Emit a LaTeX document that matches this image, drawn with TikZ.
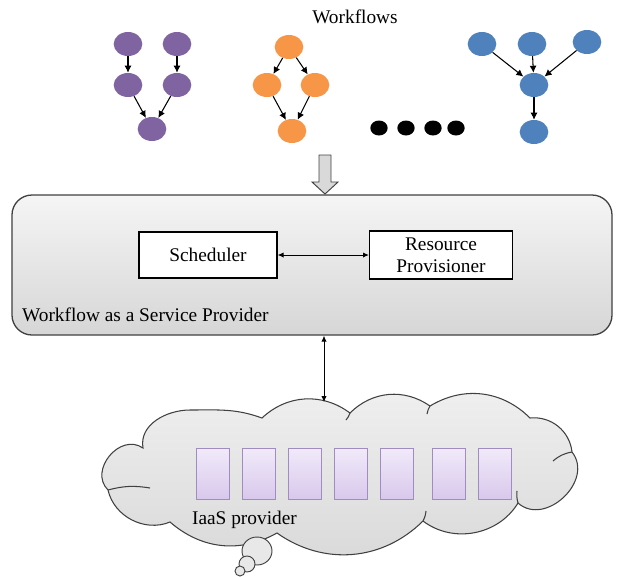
\documentclass[tikz,border=0pt]{standalone}
\usepackage{fontspec}
\setmainfont{Liberation Serif}
\usetikzlibrary{shapes.geometric,arrows.meta}

\definecolor{wfpurple}{HTML}{8064A2}
\definecolor{wforange}{HTML}{F79646}
\definecolor{wfblue}{HTML}{4F81BD}
\definecolor{vmedge}{HTML}{A08CC0}
\definecolor{vmtop}{HTML}{F1EAF9}
\definecolor{vmbottom}{HTML}{D8C8EC}
\definecolor{edgegray}{HTML}{404040}

\tikzset{
  task/.style={ellipse, minimum width=0.86cm, minimum height=0.72cm, inner sep=0pt},
  dot/.style={ellipse, fill=black, minimum width=0.52cm, minimum height=0.45cm, inner sep=0pt},
  dep/.style={-{Latex[length=6pt,width=6pt]}, line width=0.9pt},
  comp/.style={draw, line width=1.1pt, fill=white, align=center, inner sep=0pt},
  link/.style={{Latex[length=5pt,width=4.5pt]}-{Latex[length=5pt,width=4.5pt]}, line width=0.8pt},
  vm/.style={draw=vmedge, line width=0.9pt, top color=vmtop, bottom color=vmbottom,
    minimum width=0.99cm, minimum height=1.53cm, inner sep=0pt},
  bubble/.style={draw=edgegray, line width=0.8pt, fill=gray!18},
  puff/.style={draw=edgegray, line width=0.9pt},
}

\begin{document}
\begin{tikzpicture}[x=0.03cm, y=-0.03cm, font=\fontsize{16.5}{18.5}\selectfont]
  \useasboundingbox (0,0) rectangle (619,576);

  \node (title) at (355,17) {Workflows};

  % purple workflow
  \node[task, fill=wfpurple] (p1) at (128,44) {};
  \node[task, fill=wfpurple] (p2) at (177,44) {};
  \node[task, fill=wfpurple] (p3) at (128,85) {};
  \node[task, fill=wfpurple] (p4) at (177,85) {};
  \node[task, fill=wfpurple] (p5) at (152,129) {};
  \draw[dep] (p1) -- (p3);
  \draw[dep] (p2) -- (p4);
  \draw[dep] (p3) -- (p5);
  \draw[dep] (p4) -- (p5);

  % orange workflow
  \node[task, fill=wforange] (o1) at (289,47) {};
  \node[task, fill=wforange] (o2) at (267,85) {};
  \node[task, fill=wforange] (o3) at (315,85) {};
  \node[task, fill=wforange] (o4) at (292,131) {};
  \draw[dep] (o1) -- (o2);
  \draw[dep] (o1) -- (o3);
  \draw[dep] (o2) -- (o4);
  \draw[dep] (o3) -- (o4);

  % more workflows
  \foreach \x [count=\i] in {379,406,433,456}
    \node[dot] (d\i) at (\x,128) {};

  % blue workflow
  \node[task, fill=wfblue] (b1) at (482,44) {};
  \node[task, fill=wfblue] (b2) at (532,44) {};
  \node[task, fill=wfblue] (b3) at (587,42) {};
  \node[task, fill=wfblue] (b4) at (534,85) {};
  \node[task, fill=wfblue] (b5) at (534,132) {};
  \draw[dep] (b1) -- (b4);
  \draw[dep] (b2) -- (b4);
  \draw[dep] (b3) -- (b4);
  \draw[dep] (b4) -- (b5);

  % submission arrow
  \draw[draw=edgegray, line width=0.8pt, fill=gray!30]
    (319,155) -- (331,155) -- (331,182) -- (338,182) -- (325,194)
    -- (312,182) -- (319,182) -- cycle;

  % WaaS provider
  \node[draw=edgegray, line width=1.1pt, rounded corners=0.6cm, top color=gray!8,
    bottom color=gray!32, minimum width=18cm, minimum height=4.2cm] (waas) at (312,265) {};
  \node[comp, minimum width=4.14cm, minimum height=1.38cm] (sched) at (208,255) {Scheduler};
  \node[comp, minimum width=4.29cm, minimum height=1.44cm] (prov) at (441,255) {Resource\\Provisioner};
  \draw[link] (sched) -- (prov);
  \node[anchor=west] (waaslabel) at (18,315) {Workflow as a Service Provider};

  % IaaS cloud
  \coordinate (cloudtop) at (324,402);
  \draw[puff, top color=gray!12, bottom color=gray!30]
    (143,448) to[out=100, in=180] (190,410) to[out=0, in=160] (262,418)
    to[bend left=40] (350,413)
    to[bend left=40] (430,406) to[bend left=38] (530,418)
    to[bend left=45] (572,452) to[bend left=85, looseness=1.25] (518,503)
    to[bend left=48] (423,521) to[bend left=40] (277,533)
    to[bend left=35] (170,522) to[bend left=50] (108,490)
    to[bend left=85, looseness=1.3] cycle;
  \draw[puff] (108,490) to[bend left=12] (150,488);
  \draw[puff] (572,452) to[bend right=15] (553,461);
  \draw[puff] (518,503) to[bend left=10] (517,491);
  \draw[puff] (423,521) to[bend right=10] (426,511);
  \draw[puff] (350,413) to[bend left=10] (346,420);
  \draw[puff] (430,406) to[bend right=10] (427,414);
  \draw[link] (cloudtop |- waas.south) -- (cloudtop);
  \draw[bubble] (257,551) ellipse [x radius=15, y radius=14];
  \draw[bubble] (247,564) circle [radius=8];
  \draw[bubble] (240,571) circle [radius=5];

  \foreach \x [count=\i] in {213,259,305,351,397,449,495}
    \node[vm] (vm\i) at (\x,474) {};
  \node[anchor=west] (iaas) at (188,520) {IaaS provider};
\end{tikzpicture}
\end{document}
